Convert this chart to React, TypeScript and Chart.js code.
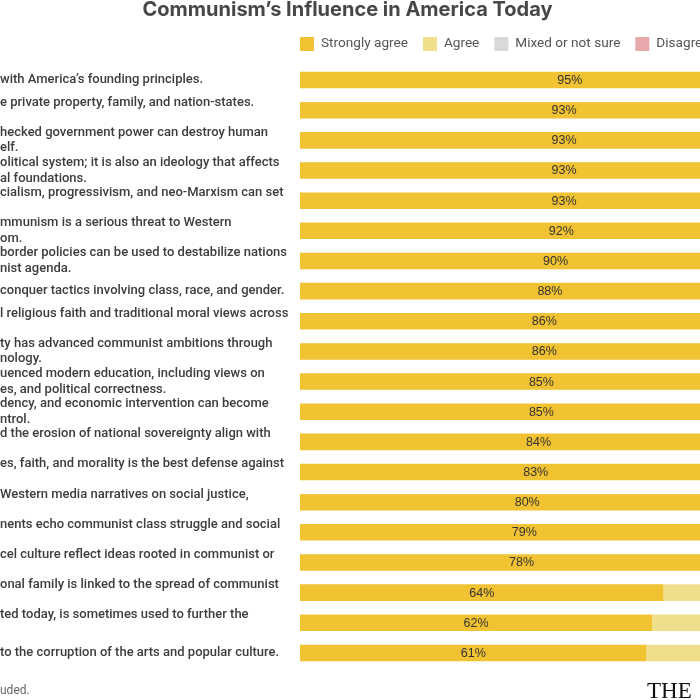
import React, { useEffect, useRef } from "react";
import { Chart, registerables } from "chart.js";

Chart.register(...registerables);

const title = "Communism’s Influence in America Today";
const footnote = "uded.";
const logo = "THE";

const categories: string[][] = [
  ["with America’s founding principles."],
  ["e private property, family, and nation-states.", ""],
  ["hecked government power can destroy human", "elf."],
  ["olitical system; it is also an ideology that affects", "al foundations."],
  ["cialism, progressivism, and neo-Marxism can set", ""],
  ["mmunism is a serious threat to Western", "om."],
  ["border policies can be used to destabilize nations", "nist agenda."],
  ["conquer tactics involving class, race, and gender."],
  ["l religious faith and traditional moral views across", ""],
  ["ty has advanced communist ambitions through", "nology."],
  ["uenced modern education, including views on", "es, and political correctness."],
  ["dency, and economic intervention can become", "ntrol."],
  ["d the erosion of national sovereignty align with", ""],
  ["es, faith, and morality is the best defense against", ""],
  ["Western media narratives on social justice,", ""],
  ["nents echo communist class struggle and social", ""],
  ["cel culture reflect ideas rooted in communist or", ""],
  ["onal family is linked to the spread of communist", ""],
  ["ted today, is sometimes used to further the", ""],
  ["to the corruption of the arts and popular culture."],
];

const seriesNames = ["Strongly agree", "Agree", "Mixed or not sure", "Disagree"];
const seriesColors = ["#F1C232", "#EFDF8C", "#D9D9D9", "#E8A9AC"];

const stronglyAgree = [95, 93, 93, 93, 93, 92, 90, 88, 86, 86, 85, 85, 84, 83, 80, 79, 78, 64, 62, 61];
const agreeValues = [3, 5, 5, 5, 5, 6, 7, 9, 10, 10, 11, 11, 12, 13, 15, 16, 17, 26, 28, 29];
const mixedValues = [1, 1, 1, 1, 1, 1, 2, 2, 2, 2, 2, 2, 2, 2, 3, 3, 3, 6, 6, 6];
const disagreeValues = [1, 1, 1, 1, 1, 1, 1, 1, 2, 2, 2, 2, 2, 2, 2, 2, 2, 4, 4, 4];

const seriesValues = [stronglyAgree, agreeValues, mixedValues, disagreeValues];

const overlayPlugin = {
  id: "overlay",
  afterDatasetsDraw(chart: any) {
    const ctx = chart.ctx as CanvasRenderingContext2D;
    const meta = chart.getDatasetMeta(0);
    ctx.save();
    ctx.font = '12.5px "Liberation Sans", Arial, sans-serif';
    ctx.fillStyle = "#333333";
    ctx.textAlign = "center";
    ctx.textBaseline = "middle";
    meta.data.forEach((bar: any, i: number) => {
      const p = bar.getProps(["x", "y", "base"], true);
      ctx.fillText(stronglyAgree[i] + "%", (p.x + p.base) / 2, p.y + 0.5);
    });
    ctx.restore();
  },
  afterDraw(chart: any) {
    const ctx = chart.ctx as CanvasRenderingContext2D;
    ctx.save();
    // title
    ctx.font = 'bold 20px Inter, Roboto, sans-serif';
    ctx.fillStyle = "#474747";
    ctx.textAlign = "center";
    ctx.textBaseline = "alphabetic";
    ctx.fillText(title, 347.5, 16);
    // legend
    let x = chart.chartArea.left;
    const y = 44;
    ctx.font = '13.6px Roboto, sans-serif';
    ctx.textAlign = "left";
    ctx.textBaseline = "middle";
    chart.data.datasets.forEach((ds: any) => {
      ctx.fillStyle = ds.backgroundColor;
      ctx.fillRect(x, y - 7, 14, 14);
      x += 14 + 7;
      ctx.fillStyle = "#555555";
      ctx.fillText(ds.label, x, y);
      x += ctx.measureText(ds.label).width + 15;
    });
    // footnote
    ctx.font = '12px Roboto, sans-serif';
    ctx.fillStyle = "#666666";
    ctx.fillText(footnote, 0, 691);
    // logo
    ctx.font = '23px "Liberation Serif", "DejaVu Serif", serif';
    ctx.fillStyle = "#111111";
    ctx.textBaseline = "alphabetic";
    ctx.fillText(logo, 647, 698);
    ctx.restore();
  },
};

export default function App() {
  const canvasRef = useRef<HTMLCanvasElement | null>(null);

  useEffect(() => {
    if (!canvasRef.current) return;
    const chart = new Chart(canvasRef.current, {
      type: "bar",
      data: {
        labels: categories,
        datasets: seriesNames.map((name, i) => ({
          label: name,
          data: seriesValues[i],
          backgroundColor: seriesColors[i],
          borderWidth: 0,
          barPercentage: 0.55,
          categoryPercentage: 1,
        })),
      },
      options: {
        indexAxis: "y",
        animation: false,
        responsive: false,
        events: [],
        layout: { padding: { top: 65, bottom: 32, left: 0, right: 12 } },
        plugins: {
          legend: { display: false },
          title: { display: false },
          tooltip: { enabled: false },
        },
        scales: {
          x: { stacked: true, min: 0, max: 100, display: false },
          y: {
            stacked: true,
            grid: { display: false },
            border: { display: false },
            afterFit: (s: any) => {
              s.width = 300;
            },
            ticks: {
              autoSkip: false,
              crossAlign: "far",
              padding: 0,
              color: "#3d3d3d",
              font: { family: "Roboto, sans-serif", size: 13, weight: "500", lineHeight: 1.2 },
            },
          },
        },
      },
      plugins: [overlayPlugin],
    } as any);
    return () => chart.destroy();
  }, []);

  return (
    <div
      style={{
        position: "absolute",
        left: 0,
        top: 0,
        width: 700,
        height: 700,
        overflow: "hidden",
        background: "#ffffff",
      }}
    >
      <canvas ref={canvasRef} width={880} height={700} style={{ width: 880, height: 700, display: "block" }} />
    </div>
  );
}
